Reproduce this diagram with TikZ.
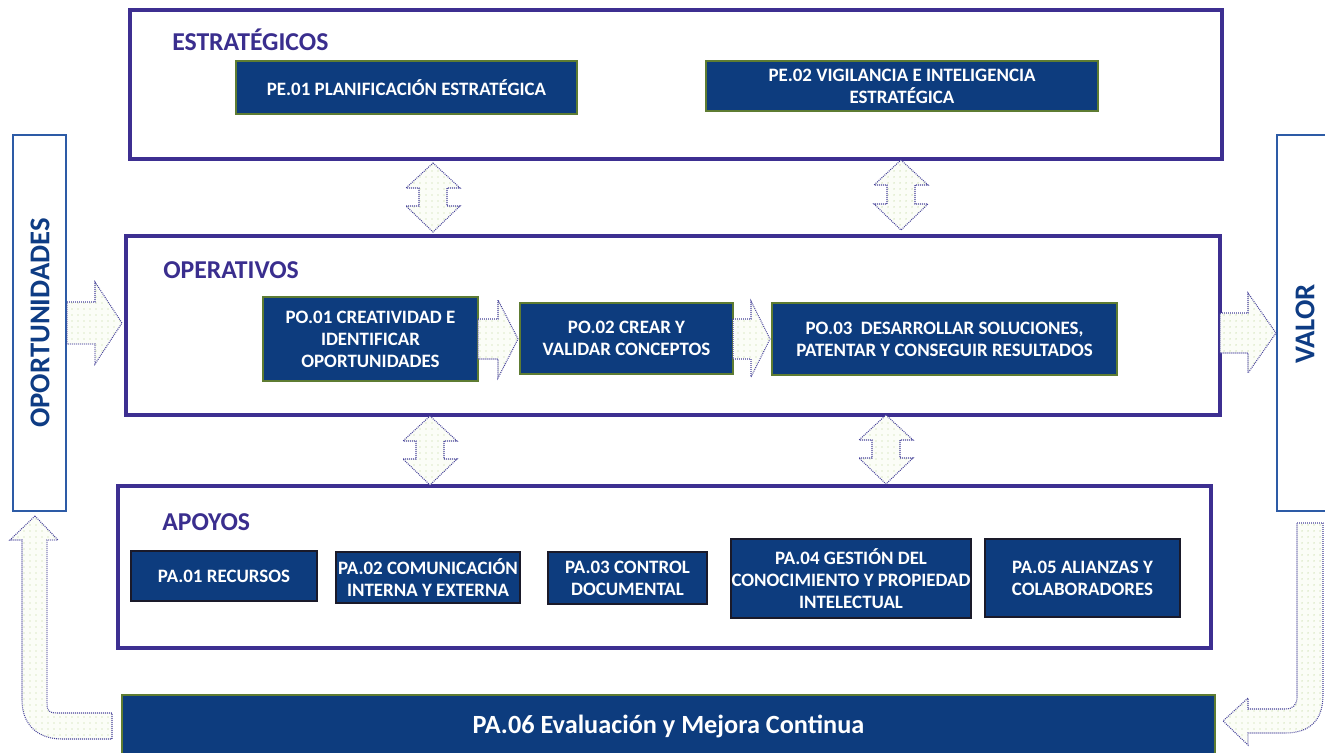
\documentclass[tikz,border=0pt]{standalone}
\usepackage{fontspec}
\setmainfont{Carlito}
\usetikzlibrary{patterns}
\definecolor{frameC}{HTML}{3D2F91}
\definecolor{headC}{HTML}{3A2E8E}
\definecolor{boxC}{HTML}{0D3C7E}
\definecolor{greenB}{HTML}{5E7C32}
\definecolor{darkB}{HTML}{1A1A2A}
\definecolor{sideC}{HTML}{2D5BA6}
\definecolor{sideT}{HTML}{0E3C84}
\definecolor{arrC}{HTML}{46429A}
\definecolor{arrFill}{HTML}{FBFDF7}
\definecolor{dotC}{HTML}{BCD495}
\pgfdeclarepatternformonly{sparsedots}{\pgfqpoint{-1pt}{-1pt}}{\pgfqpoint{1pt}{1pt}}{\pgfqpoint{4.5pt}{4.5pt}}{\pgfpathcircle{\pgfqpoint{0pt}{0pt}}{0.55pt}\pgfusepath{fill}}
\newcommand\bx[7]{\node[#1, minimum width={(#4-#2)*0.75pt}, minimum height={(#5-#3)*0.75pt}] (#6) at ({(#2+#4)/2},{(#3+#5)/2}) {#7};}
\newcommand\vdarr[3]{\draw[blockarrow] (#1,#2) -- ++(27,25) -- ++(-13,0) -- (#1+14,#3-26) -- ++(13,0) -- (#1,#3) -- ++(-27,-26) -- ++(13,0) -- (#1-14,#2+25) -- ++(-13,0) -- cycle;}
\newcommand\rarr[6]{\draw[blockarrow] (#1,#4-#5) -- (#2,#4-#5) -- (#2,#4-#6) -- (#3,#4) -- (#2,#4+#6) -- (#2,#4+#5) -- (#1,#4+#5) -- cycle;}
\tikzset{
  frame/.style={draw=frameC, line width=2.4pt, fill=white},
  sideframe/.style={draw=sideC, line width=1.2pt, fill=white},
  pbox/.style={fill=boxC, draw=greenB, line width=0.9pt, text=white, align=center, inner sep=0pt, font=\fontsize{14.2}{16.5}\selectfont\bfseries},
  abox/.style={pbox, draw=darkB},
  heading/.style={text=headC, anchor=west, inner sep=0pt, font=\fontsize{19.3}{22}\selectfont\bfseries},
  sidetext/.style={text=sideT, rotate=90, inner sep=0pt, font=\fontsize{21.5}{24}\selectfont\bfseries},
  blockarrow/.style={draw=arrC, dash pattern=on 0.7pt off 0.8pt, line width=0.8pt, preaction={fill=arrFill}, preaction={pattern=sparsedots, pattern color=dotC}}
}
\begin{document}
\begin{tikzpicture}[x=0.75pt,y=-0.75pt]
\useasboundingbox (0,0) rectangle (1325,753);
% frames
\draw[frame] (130,10) rectangle (1222,159);
\draw[frame] (126,236) rectangle (1220,415);
\draw[frame] (118,486) rectangle (1211,648);
\draw[sideframe] (13,135) rectangle (66,511);
\draw[sideframe] (1277,135) rectangle (1340,511);
\node[sidetext] (oport) at (40,323) {OPORTUNIDADES};
\node[sidetext] (valor) at (1305,324) {VALOR};
% headings
\node[heading] (hest) at (172,40) {ESTRATÉGICOS};
\node[heading] (hop) at (163,270) {OPERATIVOS};
\node[heading] (hapo) at (162,522) {APOYOS};
% boxes
\bx{pbox}{236}{61}{577}{114}{pe1}{PE.01 PLANIFICACIÓN ESTRATÉGICA}
\bx{pbox}{706}{61}{1098}{111}{pe2}{PE.02 VIGILANCIA E INTELIGENCIA\\ESTRATÉGICA}
\bx{pbox}{263}{297}{478}{381}{po1}{PO.01 CREATIVIDAD E\\IDENTIFICAR\\OPORTUNIDADES}
\bx{pbox}{520}{303}{733}{374}{po2}{PO.02 CREAR Y\\VALIDAR CONCEPTOS}
\bx{pbox}{772}{303}{1117}{375}{po3}{PO.03\ \ DESARROLLAR SOLUCIONES,\\PATENTAR Y CONSEGUIR RESULTADOS}
\bx{abox}{131}{551}{317}{601}{pa1}{PA.01 RECURSOS}
\bx{abox}{336}{552}{520}{603}{pa2}{PA.02 COMUNICACIÓN\\INTERNA Y EXTERNA}
\bx{abox}{548}{552}{707}{604}{pa3}{PA.03 CONTROL\\DOCUMENTAL}
\bx{abox}{731}{539}{971}{618}{pa4}{PA.04 GESTIÓN DEL\\CONOCIMIENTO Y PROPIEDAD\\INTELECTUAL}
\bx{abox}{985}{539}{1180}{617}{pa5}{PA.05 ALIANZAS Y\\COLABORADORES}
\bx{pbox, font=\fontsize{19.7}{22}\selectfont\bfseries}{122}{695}{1215}{757}{pa6}{PA.06 Evaluación y Mejora Continua}
% double vertical arrows
\vdarr{433}{163}{232}
\vdarr{901}{160}{230}
\vdarr{430}{416}{485}
\vdarr{886}{415}{484}
% horizontal arrows
\rarr{67}{95}{122}{323}{21}{41}
\rarr{478}{498}{518}{339}{20}{39}
\rarr{733}{751}{770}{339}{20}{38}
\rarr{1220}{1248}{1276}{333}{20}{40}
% L arrows
\draw[blockarrow] (35,516) -- (58,540) -- (47,540) -- (47,703) .. controls (47,711) and (49,713) .. (57,713) -- (112,713) -- (112,739) -- (62,739) .. controls (38,739) and (22,725) .. (22,700) -- (22,540) -- (10,540) -- cycle;
\draw[blockarrow] (1297,523) -- (1323,523) -- (1323,695) .. controls (1323,720) and (1310,733) .. (1285,733) -- (1248,733) -- (1248,745) -- (1223,721) -- (1248,698) -- (1248,709) -- (1285,709) .. controls (1293,709) and (1297,705) .. (1297,697) -- cycle;
\end{tikzpicture}
\end{document}
